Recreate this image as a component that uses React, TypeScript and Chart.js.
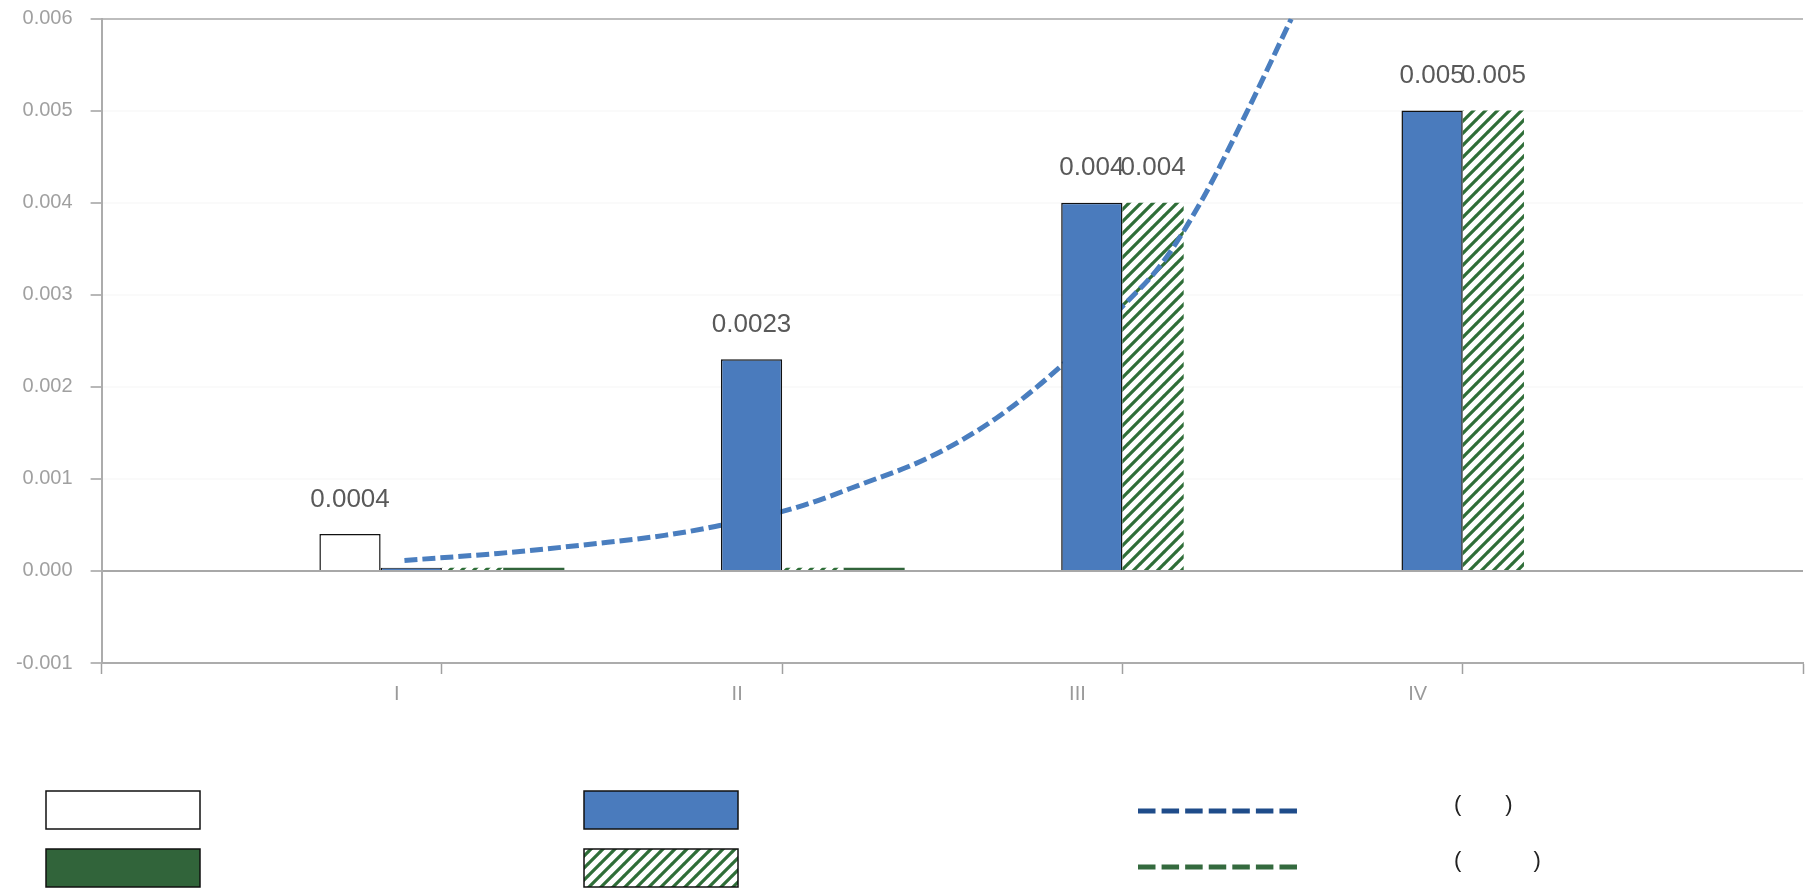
import React, { useEffect, useRef } from 'react';
import { Chart, registerables } from 'chart.js';

Chart.register(...registerables);

// ---------- data ----------
const categories = ['', 'I', 'II', 'III', 'IV', ''];
const seriesWhite = [null, 0.0004, null, null, null, null];
const seriesBlue = [null, 0.000035, 0.0023, 0.004, 0.005, null];
const seriesHatched = [null, 0.000035, 0.000035, 0.004, 0.005, null];
const seriesGreen = [null, 0.000035, 0.000035, null, null, null];

// trend line (x in category-index units)
const trendX = [0.89, 1.165, 1.458, 1.654, 1.803, 2.043, 2.239, 2.432, 2.628, 2.812, 2.994, 3.116, 3.233, 3.365, 3.496];
const trendY = [0.000114, 0.00019, 0.000299, 0.000386, 0.000483, 0.00069, 0.00095, 0.001233, 0.001656, 0.002199, 0.002851, 0.00334, 0.004024, 0.00498, 0.005995];

const yMin = -0.001;
const yMax = 0.006;
const yStep = 0.001;

const barLegendLabels = ['', '', '', ''];
const lineLegendLabels = [
  '\u3000\u3000\u3000\u3000\u3000\u3000\u3000(\u3000\u3000)',
  '\u3000\u3000\u3000\u3000\u3000\u3000\u3000(\u3000\u3000\u3000 )',
];

// ---------- styles ----------
const C_BLUE = '#4a7bbd';
const C_DGREEN = '#31643a';
const C_HATCH = '#2f6e38';
const C_TREND = '#4a7ebf';
const C_LEG_LINE1 = '#1f4c8a';
const C_LEG_LINE2 = '#346a3e';
const FONT = '"Liberation Sans", Arial, sans-serif';

function makeHatch(): CanvasPattern | string {
  const c = document.createElement('canvas');
  c.width = 12;
  c.height = 12;
  const g = c.getContext('2d');
  if (!g) return C_HATCH;
  g.fillStyle = '#ffffff';
  g.fillRect(0, 0, 12, 12);
  g.strokeStyle = C_HATCH;
  g.lineWidth = 3.2;
  g.lineCap = 'square';
  g.beginPath();
  for (const o of [-12, 0, 12]) {
    g.moveTo(o, 12);
    g.lineTo(o + 12, 0);
  }
  g.stroke();
  return g.createPattern(c, 'repeat') || C_HATCH;
}

export default function App() {
  const ref = useRef<HTMLCanvasElement | null>(null);

  useEffect(() => {
    const canvas = ref.current;
    if (!canvas) return;
    const hatch = makeHatch();

    const labelPlugin = {
      id: 'barLabels',
      afterDatasetsDraw(chart: any) {
        const ctx = chart.ctx;
        ctx.save();
        ctx.font = `26px ${FONT}`;
        ctx.fillStyle = '#595959';
        ctx.textAlign = 'center';
        ctx.textBaseline = 'alphabetic';
        chart.data.datasets.forEach((ds: any, i: number) => {
          if (ds.type === 'line') return;
          const meta = chart.getDatasetMeta(i);
          meta.data.forEach((el: any, j: number) => {
            const v = ds.data[j];
            if (v == null || v < 0.0001) return;
            ctx.fillText(String(v), el.x, el.y - 27.5);
          });
        });
        ctx.restore();
      },
    };

    const legendPlugin = {
      id: 'gridLegend',
      afterDraw(chart: any) {
        const ctx = chart.ctx;
        ctx.save();
        const boxW = 154;
        const boxH = 38;
        const cols = [46, 584];
        const rows = [791, 849];
        const fills: any[] = ['#ffffff', C_BLUE, C_DGREEN, hatch];
        for (let i = 0; i < 4; i++) {
          const x = cols[i % 2];
          const y = rows[Math.floor(i / 2)];
          ctx.fillStyle = fills[i];
          ctx.fillRect(x, y, boxW, boxH);
          ctx.strokeStyle = '#111';
          ctx.lineWidth = 1.5;
          ctx.strokeRect(x, y, boxW, boxH);
          ctx.font = `22px ${FONT}`;
          ctx.fillStyle = '#222';
          ctx.textBaseline = 'middle';
          ctx.textAlign = 'left';
          ctx.fillText(barLegendLabels[i], x + boxW + 10, y + boxH / 2);
        }
        const lineCols = [C_LEG_LINE1, C_LEG_LINE2];
        const lineY = [811, 867];
        for (let i = 0; i < 2; i++) {
          ctx.strokeStyle = lineCols[i];
          ctx.lineWidth = 5;
          ctx.setLineDash([17.5, 6.08]);
          ctx.beginPath();
          ctx.moveTo(1138, lineY[i]);
          ctx.lineTo(1297, lineY[i]);
          ctx.stroke();
          ctx.setLineDash([]);
          ctx.font = `22px ${FONT}`;
          ctx.fillStyle = '#222';
          ctx.textBaseline = 'middle';
          ctx.textAlign = 'left';
          ctx.fillText(lineLegendLabels[i], 1300, lineY[i] - 6);
        }
        ctx.restore();
      },
    };

    const chart = new Chart(canvas, {
      type: 'bar',
      data: {
        labels: categories,
        datasets: [
          {
            label: barLegendLabels[0],
            data: seriesWhite,
            backgroundColor: '#ffffff',
            borderColor: '#111',
            borderWidth: 1.5,
            order: 0,
          },
          {
            label: barLegendLabels[1],
            data: seriesBlue,
            backgroundColor: C_BLUE,
            borderColor: '#111',
            borderWidth: 1.5,
            order: 1,
          },
          {
            label: barLegendLabels[3],
            data: seriesHatched,
            backgroundColor: hatch as any,
            borderWidth: 0,
            order: 2,
          },
          {
            label: barLegendLabels[2],
            data: seriesGreen,
            backgroundColor: C_DGREEN,
            borderWidth: 0,
            order: 3,
          },
          {
            type: 'line',
            label: lineLegendLabels[0],
            parsing: false,
            data: trendX.map((x, i) => ({ x, y: trendY[i] })),
            borderColor: C_TREND,
            borderWidth: 5,
            borderDash: [13, 5],
            pointRadius: 0,
            fill: false,
            cubicInterpolationMode: 'monotone',
            order: 1.5,
          } as any,
        ],
      },
      options: {
        responsive: false,
        animation: false,
        devicePixelRatio: 1,
        layout: { padding: { top: 18.5, left: 0, right: 0, bottom: 0 } },
        datasets: {
          bar: {
            categoryPercentage: 0.72,
            barPercentage: 1,
            grouped: true,
          },
        },
        plugins: {
          legend: { display: false },
          tooltip: { enabled: false },
          title: { display: false },
        },
        scales: {
          x: {
            type: 'category',
            offset: false,
            min: 0,
            max: 5,
            afterFit: (s: any) => {
              s.height = 226;
            },
            grid: {
              display: true,
              drawOnChartArea: false,
              drawTicks: true,
              tickLength: 11,
              tickColor: '#a0a0a0',
              tickWidth: 1.5,
              offset: false,
            },
            border: { display: true, color: '#acacac', width: 2 },
            ticks: {
              autoSkip: false,
              maxRotation: 0,
              minRotation: 0,
              labelOffset: -45,
              padding: 8,
              color: '#9a9a9a',
              font: { size: 20, family: FONT },
            },
          },
          y: {
            type: 'linear',
            min: yMin,
            max: yMax,
            afterFit: (s: any) => {
              s.width = 101.6;
              s.paddingTop = 0;
              s.paddingBottom = 0;
            },
            ticks: {
              stepSize: yStep,
              padding: 18,
              color: '#a0a0a0',
              font: { size: 20, family: FONT },
              callback: (v: any) => Number(v).toFixed(3),
            },
            grid: {
              drawTicks: true,
              tickLength: 11,
              tickColor: '#a0a0a0',
              tickWidth: 1.5,
              color: (ctx: any) => {
                const v = ctx.tick ? ctx.tick.value : null;
                if (v === null) return 'rgba(0,0,0,0)';
                if (Math.abs(v) < 1e-9) return '#a8a8a8';
                if (Math.abs(v - yMax) < 1e-9) return '#bdbdbd';
                return 'rgba(0,0,0,0.02)';
              },
              lineWidth: 2,
            },
            border: { display: true, color: '#acacac', width: 2 },
          },
        },
      } as any,
      plugins: [labelPlugin, legendPlugin],
    });

    return () => {
      chart.destroy();
    };
  }, []);

  return (
    <div style={{ position: 'fixed', left: 0, top: 0, width: 1811, height: 889, background: '#ffffff' }}>
      <canvas ref={ref} width={1811} height={889} style={{ width: 1811, height: 889, display: 'block' }} />
    </div>
  );
}
